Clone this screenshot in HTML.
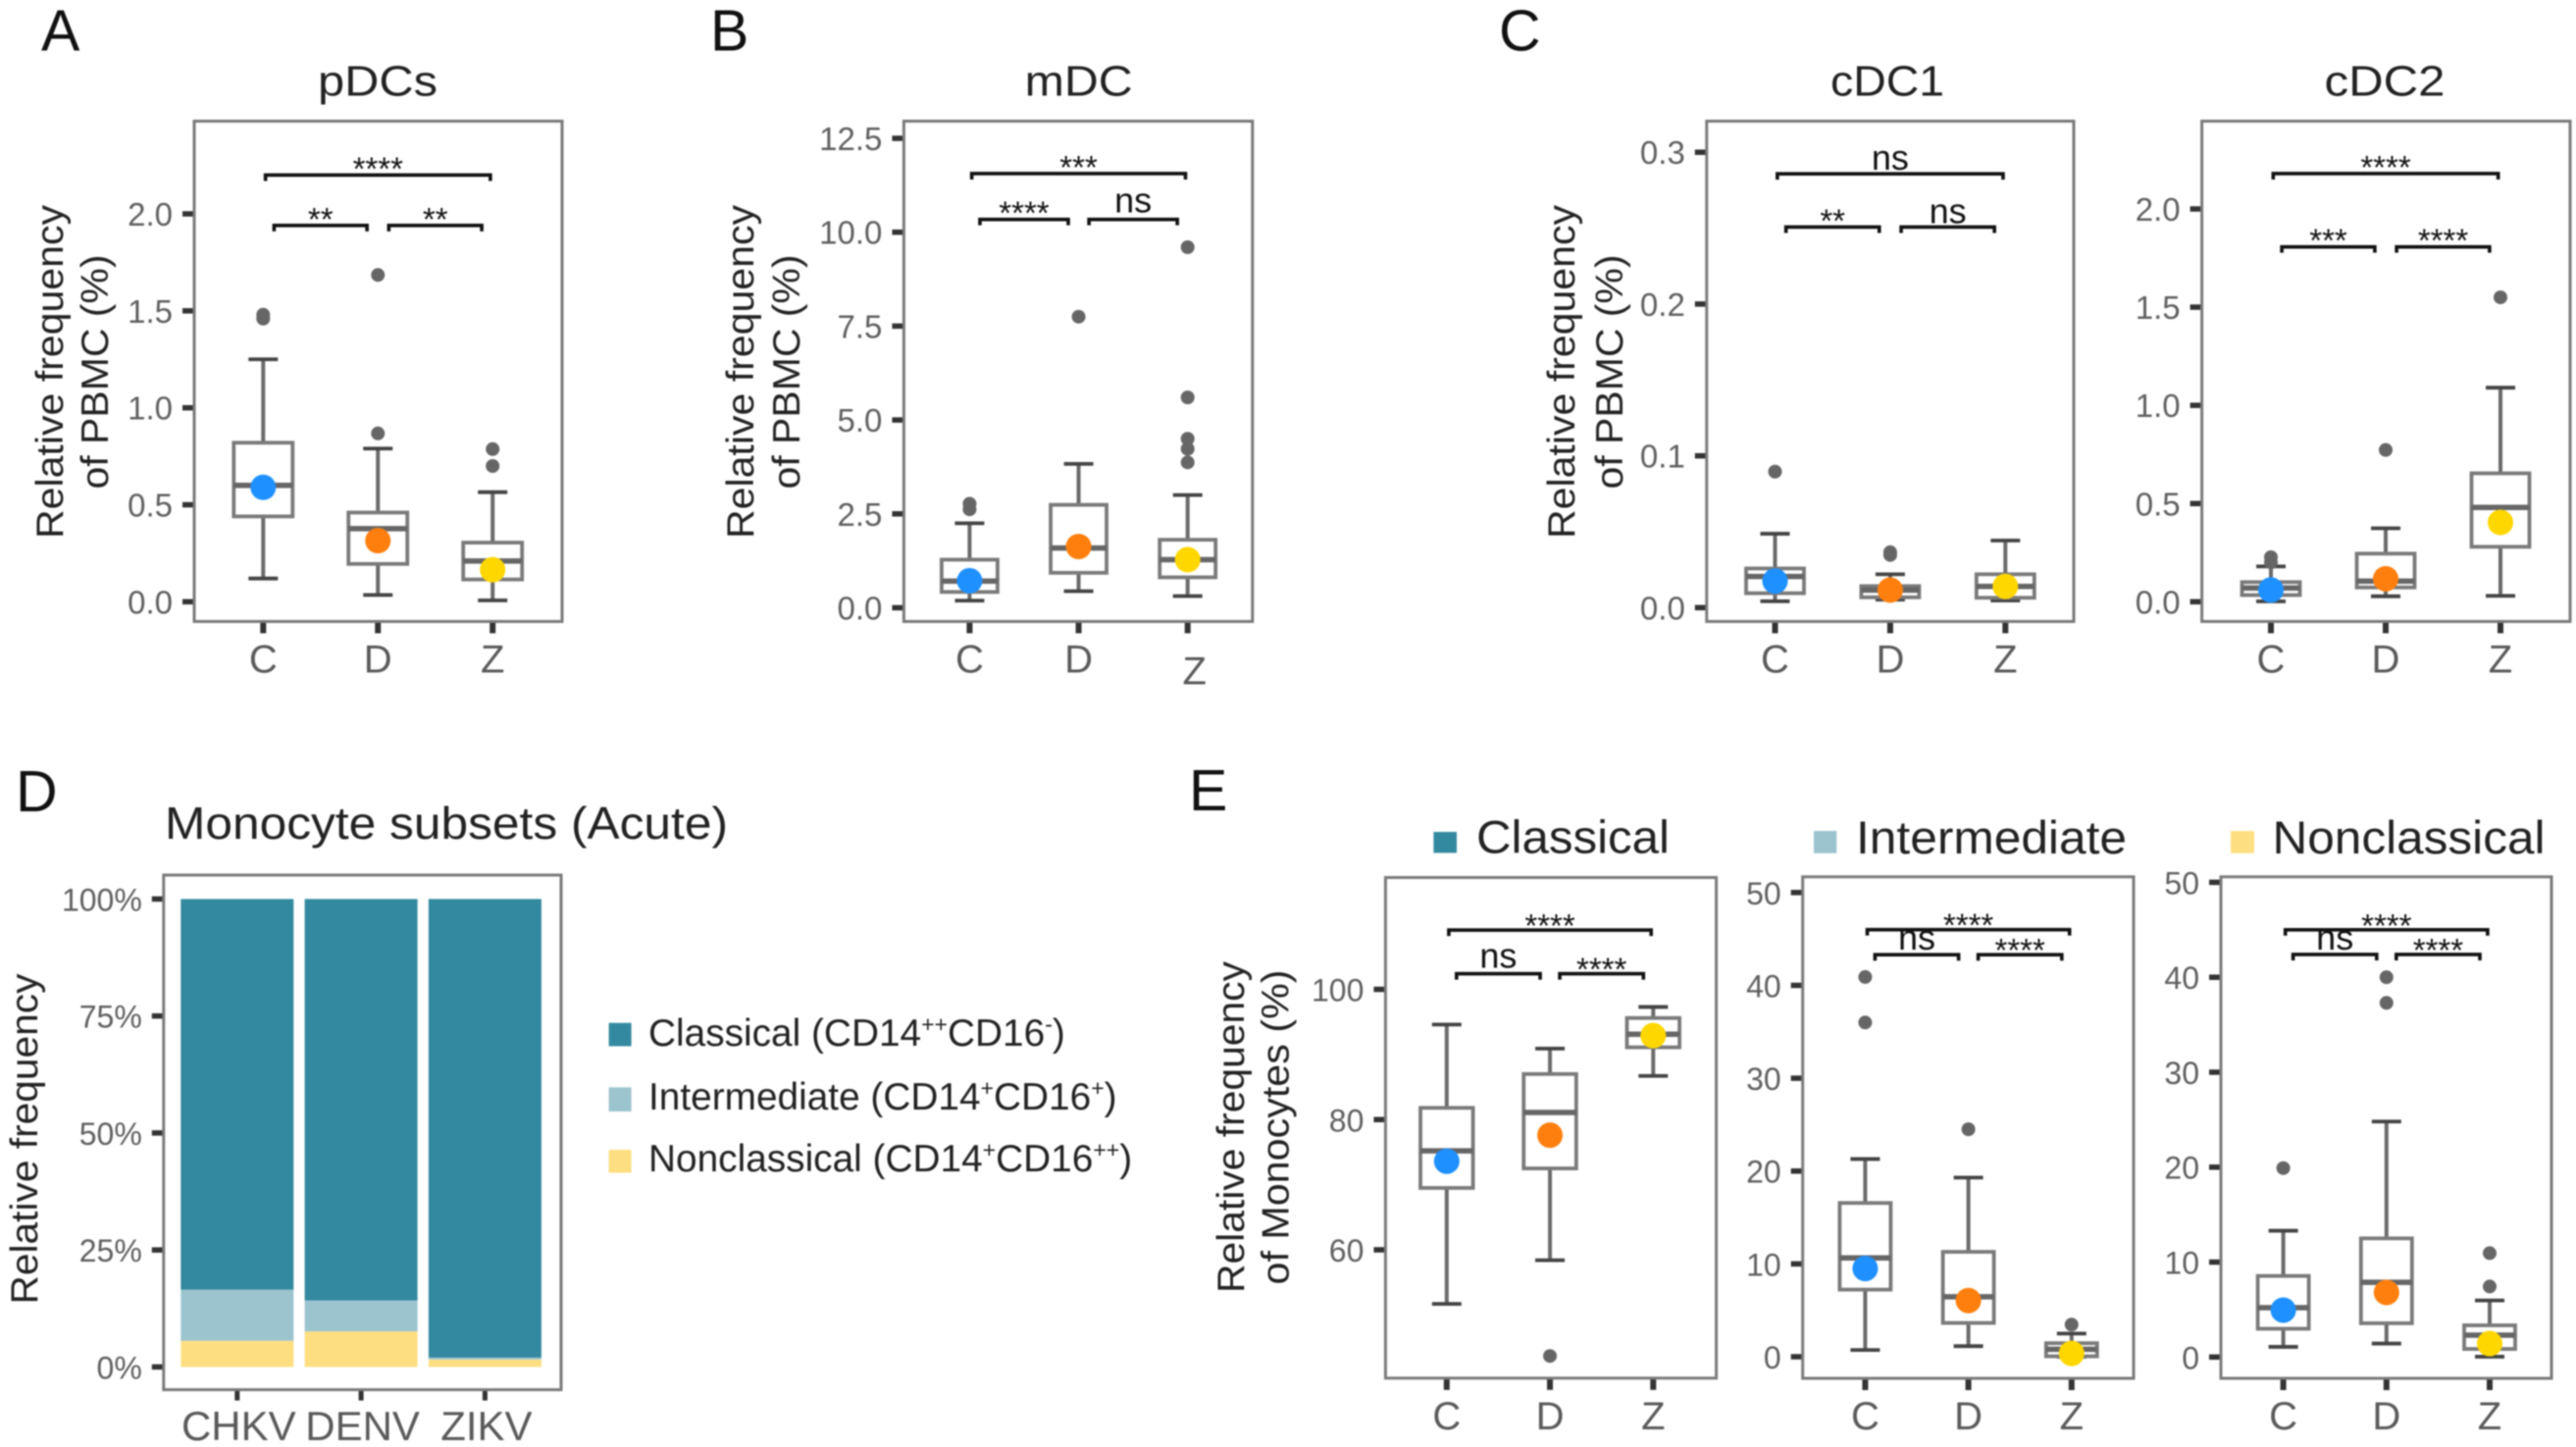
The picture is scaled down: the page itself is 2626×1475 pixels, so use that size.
<!DOCTYPE html>
<html lang="en">
<head>
<meta charset="utf-8">
<title>Dendritic cell and monocyte frequencies</title>
<style>
html,body{margin:0;padding:0;background:#fff;width:2626px;height:1475px;overflow:hidden}
svg{display:block;filter:blur(0.8px);font-family:"Liberation Sans",Arial,sans-serif}
.letter{font-size:59px;fill:#111}
.title{font-size:44px;fill:#222;text-anchor:middle}
.ytitle{font-size:39px;fill:#222;text-anchor:middle}
.legend{font-size:38.8px;fill:#222}
.sup{font-size:23px}
</style>
</head>
<body>
<svg id="figure" xmlns="http://www.w3.org/2000/svg" width="2626" height="1475" viewBox="0 0 2626 1475">
  <rect width="2626" height="1475" fill="#fff"/>

  <text class="letter" x="42" y="51.5">A</text>
  <text class="letter" x="724" y="51.5">B</text>
  <text class="letter" x="1528" y="51.5">C</text>
  <text class="letter" x="16" y="827">D</text>
  <text class="letter" x="1212" y="826">E</text>

  <text class="title" x="385" y="97.5" textLength="122" lengthAdjust="spacingAndGlyphs">pDCs</text>
  <text class="title" x="1099.6" y="97.5" textLength="110" lengthAdjust="spacingAndGlyphs">mDC</text>
  <text class="title" x="1924" y="97.5" textLength="116" lengthAdjust="spacingAndGlyphs">cDC1</text>
  <text class="title" x="2431" y="97.5" textLength="123" lengthAdjust="spacingAndGlyphs">cDC2</text>
  <text class="title" x="455" y="855" style="font-size:46px" textLength="574" lengthAdjust="spacingAndGlyphs">Monocyte subsets (Acute)</text>

  <g>
    <text class="ytitle" transform="translate(64,379) rotate(-90)" textLength="340" lengthAdjust="spacingAndGlyphs">Relative frequency</text>
    <text class="ytitle" transform="translate(110,379) rotate(-90)" textLength="239" lengthAdjust="spacingAndGlyphs">of PBMC (%)</text>
  </g>
  <g>
    <text class="ytitle" transform="translate(768,379) rotate(-90)" textLength="340" lengthAdjust="spacingAndGlyphs">Relative frequency</text>
    <text class="ytitle" transform="translate(815,379) rotate(-90)" textLength="239" lengthAdjust="spacingAndGlyphs">of PBMC (%)</text>
  </g>
  <g>
    <text class="ytitle" transform="translate(1605,379) rotate(-90)" textLength="340" lengthAdjust="spacingAndGlyphs">Relative frequency</text>
    <text class="ytitle" transform="translate(1654,379) rotate(-90)" textLength="239" lengthAdjust="spacingAndGlyphs">of PBMC (%)</text>
  </g>
  <text class="ytitle" transform="translate(38,1161) rotate(-90)" textLength="337" lengthAdjust="spacingAndGlyphs">Relative frequency</text>
  <g>
    <text class="ytitle" transform="translate(1268,1149) rotate(-90)" textLength="338" lengthAdjust="spacingAndGlyphs">Relative frequency</text>
    <text class="ytitle" transform="translate(1313.6,1149) rotate(-90)" textLength="321" lengthAdjust="spacingAndGlyphs">of Monocytes (%)</text>
  </g>

  <g>
    <g>
      <rect x="620.6" y="1042.7" width="23" height="23.7" fill="#33899f"/>
      <text class="legend" x="661" y="1066">Classical (CD14<tspan class="sup" dy="-14">++</tspan><tspan dy="14">CD16</tspan><tspan class="sup" dy="-14">-</tspan><tspan dy="14">)</tspan></text>
    </g>
    <g>
      <rect x="620.6" y="1108.4" width="23" height="24.6" fill="#9cc4cf"/>
      <text class="legend" x="661" y="1131">Intermediate (CD14<tspan class="sup" dy="-14">+</tspan><tspan dy="14">CD16</tspan><tspan class="sup" dy="-14">+</tspan><tspan dy="14">)</tspan></text>
    </g>
    <g>
      <rect x="620.6" y="1172" width="23" height="23.5" fill="#fddf82"/>
      <text class="legend" x="661" y="1194">Nonclassical (CD14<tspan class="sup" dy="-14">+</tspan><tspan dy="14">CD16</tspan><tspan class="sup" dy="-14">++</tspan><tspan dy="14">)</tspan></text>
    </g>
  </g>

  <g>
    <rect x="1461.4" y="848" width="23.6" height="21.4" fill="#33899f"/>
    <text class="title" x="1603.5" y="869.5" style="font-size:47px" textLength="197" lengthAdjust="spacingAndGlyphs">Classical</text>
  </g>
  <g>
    <rect x="1849" y="847" width="23.3" height="22.7" fill="#9cc4cf"/>
    <text class="title" x="2030" y="870" style="font-size:47px" textLength="276" lengthAdjust="spacingAndGlyphs">Intermediate</text>
  </g>
  <g>
    <rect x="2274" y="847" width="24" height="22.7" fill="#fddf82"/>
    <text class="title" x="2455.5" y="870" style="font-size:47px" textLength="278" lengthAdjust="spacingAndGlyphs">Nonclassical</text>
  </g>

  <g id="charts"></g>
</svg>

<script>
// Shared categories
const boxCategories = ['C', 'D', 'Z'];
const groupColors = ['#1e90ff', '#ff7f0e', '#ffd700'];

// Panel A: pDCs
const pdcTickLabels = ['0.0', '0.5', '1.0', '1.5', '2.0'];
const pdcWhiskerLow = [0.12, 0.035, 0.007];
const pdcQ1 = [0.44, 0.195, 0.115];
const pdcMedian = [0.60, 0.377, 0.21];
const pdcQ3 = [0.82, 0.46, 0.305];
const pdcWhiskerHigh = [1.25, 0.79, 0.565];
const pdcMean = [0.59, 0.315, 0.165];
const pdcOutliers = [[1.48, 1.46], [1.685, 0.868], [0.787, 0.70]];
const pdcBracketLabels = ['****', '**', '**'];
const pdcBracketValues = [2.2, 1.94, 1.94];

// Panel B: mDC
const mdcTickLabels = ['0.0', '2.5', '5.0', '7.5', '10.0', '12.5'];
const mdcWhiskerLow = [0.19, 0.44, 0.31];
const mdcQ1 = [0.42, 0.93, 0.81];
const mdcMedian = [0.71, 1.59, 1.28];
const mdcQ3 = [1.28, 2.74, 1.81];
const mdcWhiskerHigh = [2.25, 3.83, 3.0];
const mdcMean = [0.72, 1.63, 1.28];
const mdcOutliers = [[2.77, 2.62], [7.75], [9.6, 5.6, 4.5, 4.23, 3.87]];
const mdcBracketLabels = ['***', '****', 'ns'];
const mdcBracketValues = [11.56, 10.34, 10.34];

// Panel C: cDC1
const cdc1TickLabels = ['0.0', '0.1', '0.2', '0.3'];
const cdc1WhiskerLow = [0.0042, 0.0053, 0.0047];
const cdc1Q1 = [0.0095, 0.0068, 0.0065];
const cdc1Median = [0.0205, 0.0116, 0.014];
const cdc1Q3 = [0.0258, 0.0142, 0.022];
const cdc1WhiskerHigh = [0.0487, 0.022, 0.0442];
const cdc1Mean = [0.0175, 0.0116, 0.014];
const cdc1Outliers = [[0.0896], [0.0365, 0.0347], []];
const cdc1BracketLabels = ['ns', '**', 'ns'];
const cdc1BracketValues = [0.2858, 0.2507, 0.2507];

// Panel C: cDC2
const cdc2TickLabels = ['0.0', '0.5', '1.0', '1.5', '2.0'];
const cdc2WhiskerLow = [0.002, 0.028, 0.03];
const cdc2Q1 = [0.034, 0.073, 0.28];
const cdc2Median = [0.07, 0.105, 0.48];
const cdc2Q3 = [0.10, 0.245, 0.654];
const cdc2WhiskerHigh = [0.18, 0.374, 1.09];
const cdc2Mean = [0.06, 0.117, 0.404];
const cdc2Outliers = [[0.227, 0.20], [0.773], [1.55]];
const cdc2BracketLabels = ['****', '***', '****'];
const cdc2BracketValues = [2.18, 1.807, 1.807];

// Panel E: Classical
const classicalTickLabels = ['60', '80', '100'];
const classicalWhiskerLow = [51.7, 58.4, 86.7];
const classicalQ1 = [69.5, 72.5, 91.1];
const classicalMedian = [75.2, 81.1, 93.1];
const classicalQ3 = [81.8, 87, 95.6];
const classicalWhiskerHigh = [94.6, 90.9, 97.3];
const classicalMean = [73.6, 77.6, 92.9];
const classicalOutliers = [[], [43.7], []];
const classicalBracketLabels = ['****', 'ns', '****'];
const classicalBracketValues = [109.1, 102.4, 102.4];

// Panel E: Intermediate
const intermediateTickLabels = ['0', '10', '20', '30', '40', '50'];
const intermediateWhiskerLow = [0.73, 1.14, 0];
const intermediateQ1 = [7.23, 3.64, 0.05];
const intermediateMedian = [10.65, 6.46, 0.8];
const intermediateQ3 = [16.56, 11.3, 1.46];
const intermediateWhiskerHigh = [21.3, 19.3, 2.5];
const intermediateMean = [9.5, 6.05, 0.36];
const intermediateOutliers = [[40.9, 36], [24.5], [3.46]];
const intermediateBracketLabels = ['****', 'ns', '****'];
const intermediateBracketValues = [46, 43.3, 43.3];

// Panel E: Nonclassical
const nonclassicalTickLabels = ['0', '10', '20', '30', '40', '50'];
const nonclassicalWhiskerLow = [1.07, 1.42, 0.04];
const nonclassicalQ1 = [2.98, 3.56, 0.85];
const nonclassicalMedian = [5.2, 7.87, 2.3];
const nonclassicalQ3 = [8.54, 12.5, 3.34];
const nonclassicalWhiskerHigh = [13.3, 24.8, 5.96];
const nonclassicalMean = [4.94, 6.8, 1.42];
const nonclassicalOutliers = [[19.9], [40, 37.3], [10.94, 7.43]];
const nonclassicalBracketLabels = ['****', 'ns', '****'];
const nonclassicalBracketValues = [45, 42.4, 42.4];

// Panel D: stacked bars
const subsetCategories = ['CHKV', 'DENV', 'ZIKV'];
const subsetTickLabels = ['0%', '25%', '50%', '75%', '100%'];
const subsetNonclassical = [5.6, 7.6, 1.6];
const subsetIntermediate = [10.9, 6.6, 0.4];
const subsetClassical = [83.5, 85.8, 98];

// Layout of each boxplot panel
const boxPanels = [
  {id:'pdcs', frame:[198,123.5,573,633.5], xRange:[268.3,502.2], yDomain:[0,2], yRange:[613.4,218], boxWidth:60, nsGap:6, starDrop:5, fontSize:33,
   ticks:pdcTickLabels, lo:pdcWhiskerLow, q1:pdcQ1, med:pdcMedian, q3:pdcQ3, hi:pdcWhiskerHigh, mean:pdcMean, out:pdcOutliers, bl:pdcBracketLabels, bv:pdcBracketValues},
  {id:'mdc', frame:[921.4,123.5,1276.8,633.5], xRange:[988.4,1210.7], yDomain:[0,12.5], yRange:[619.5,141], boxWidth:57, nsGap:7, starDrop:5, fontSize:33, zShift:[7,12],
   ticks:mdcTickLabels, lo:mdcWhiskerLow, q1:mdcQ1, med:mdcMedian, q3:mdcQ3, hi:mdcWhiskerHigh, mean:mdcMean, out:mdcOutliers, bl:mdcBracketLabels, bv:mdcBracketValues},
  {id:'cdc1', frame:[1739.8,123.5,2114,633.5], xRange:[1809.5,2044.3], yDomain:[0,0.3], yRange:[619.4,155.2], boxWidth:59, nsGap:4, starDrop:5, fontSize:33,
   ticks:cdc1TickLabels, lo:cdc1WhiskerLow, q1:cdc1Q1, med:cdc1Median, q3:cdc1Q3, hi:cdc1WhiskerHigh, mean:cdc1Mean, out:cdc1Outliers, bl:cdc1BracketLabels, bv:cdc1BracketValues},
  {id:'cdc2', frame:[2244.6,123.5,2620,633.5], xRange:[2315,2549], yDomain:[0,2], yRange:[613.4,213], boxWidth:59, nsGap:4, starDrop:5, fontSize:33,
   ticks:cdc2TickLabels, lo:cdc2WhiskerLow, q1:cdc2Q1, med:cdc2Median, q3:cdc2Q3, hi:cdc2WhiskerHigh, mean:cdc2Mean, out:cdc2Outliers, bl:cdc2BracketLabels, bv:cdc2BracketValues},
  {id:'classical', frame:[1412.4,894.5,1749.6,1404.8], xRange:[1474.8,1685.3], yDomain:[60,100], yRange:[1274,1008.5], boxWidth:53.6, nsGap:6, starDrop:7, fontSize:32,
   ticks:classicalTickLabels, lo:classicalWhiskerLow, q1:classicalQ1, med:classicalMedian, q3:classicalQ3, hi:classicalWhiskerHigh, mean:classicalMean, out:classicalOutliers, bl:classicalBracketLabels, bv:classicalBracketValues},
  {id:'intermediate', frame:[1837.7,893.8,2175,1405], xRange:[1901.4,2111.8], yDomain:[0,50], yRange:[1383,909.8], boxWidth:52, nsGap:5, starDrop:7, fontSize:32,
   ticks:intermediateTickLabels, lo:intermediateWhiskerLow, q1:intermediateQ1, med:intermediateMedian, q3:intermediateQ3, hi:intermediateWhiskerHigh, mean:intermediateMean, out:intermediateOutliers, bl:intermediateBracketLabels, bv:intermediateBracketValues},
  {id:'nonclassical', frame:[2264,893.8,2601,1405], xRange:[2327.6,2538], yDomain:[0,50], yRange:[1383.3,899.4], boxWidth:52, nsGap:5, starDrop:7, fontSize:32,
   ticks:nonclassicalTickLabels, lo:nonclassicalWhiskerLow, q1:nonclassicalQ1, med:nonclassicalMedian, q3:nonclassicalQ3, hi:nonclassicalWhiskerHigh, mean:nonclassicalMean, out:nonclassicalOutliers, bl:nonclassicalBracketLabels, bv:nonclassicalBracketValues}
];
// Comparison brackets run between category indices
const bracketSpans = [[0.02, 1.98], [0.095, 0.905], [1.095, 1.905]];

const NS = 'http://www.w3.org/2000/svg';
const root = document.getElementById('charts');

function make(tag, attrs, parent, name, text) {
  const el = document.createElementNS(NS, tag);
  for (const k in attrs) el.setAttribute(k, attrs[k]);
  
  
  if (text !== undefined) el.textContent = text;
  parent.appendChild(el);
  return el;
}
function linear(domain, range) {
  const k = (range[1] - range[0]) / (domain[1] - domain[0]);
  return v => range[0] + (v - domain[0]) * k;
}
function line(parent, name, x1, y1, x2, y2, stroke, width) {
  return make('line', {x1, y1, x2, y2, stroke, 'stroke-width': width}, parent, name);
}
function frameRect(parent, name, f) {
  return make('rect', {x:f[0], y:f[1], width:f[2]-f[0], height:f[3]-f[1], fill:'none', stroke:'#7a7a7a', 'stroke-width':3}, parent, name);
}
function yAxis(parent, id, f, labels, y, fontSize) {
  labels.forEach(label => {
    const py = y(parseFloat(label));
    line(parent, id + '-y-tick-' + label, f[0] - 12, py, f[0], py, '#333', 5.5);
    make('text', {x:f[0] - 22, y:py + 12, 'text-anchor':'end', 'font-size':fontSize, fill:'#5f5f5f'}, parent, id + '-y-tick-label-' + label, label);
  });
}

boxPanels.forEach(p => {
  const g = make('g', {}, root, 'panel-' + p.id);
  const x = linear([0, 2], p.xRange);
  const y = linear(p.yDomain, p.yRange);
  const f = p.frame;

  yAxis(g, p.id, f, p.ticks, y, p.fontSize);
  boxCategories.forEach((cat, i) => {
    line(g, p.id + '-x-tick-' + cat, x(i), f[3], x(i), f[3] + 12, '#333', 6);
    const shift = (cat === 'Z' && p.zShift) ? p.zShift : [0, 0];
    make('text', {x:x(i) + shift[0], y:f[3] + 52 + shift[1], 'text-anchor':'middle', 'font-size':40, fill:'#5a5a5a'}, g, p.id + '-x-label-' + cat, cat);

    const w = p.boxWidth / 2;
    line(g, p.id + '-whisker-' + cat, x(i), y(p.lo[i]), x(i), y(p.hi[i]), '#6a6a6a', 4);
    line(g, p.id + '-cap-low-' + cat, x(i) - 15, y(p.lo[i]), x(i) + 15, y(p.lo[i]), '#444', 3.8);
    line(g, p.id + '-cap-high-' + cat, x(i) - 15, y(p.hi[i]), x(i) + 15, y(p.hi[i]), '#444', 3.8);
    make('rect', {x:x(i) - w, y:y(p.q3[i]), width:p.boxWidth, height:y(p.q1[i]) - y(p.q3[i]), fill:'#fff', stroke:'#7a7a7a', 'stroke-width':3.8}, g, p.id + '-box-' + cat);
    line(g, p.id + '-median-' + cat, x(i) - w, y(p.med[i]), x(i) + w, y(p.med[i]), '#666', 5.5);
    p.out[i].forEach((v, j) => {
      make('circle', {cx:x(i), cy:y(v), r:7, fill:'#666'}, g, p.id + '-outlier-' + cat + '-' + j);
    });
    make('circle', {cx:x(i), cy:y(p.mean[i]), r:13, fill:groupColors[i]}, g, p.id + '-mean-' + cat);
  });

  bracketSpans.forEach((span, b) => {
    const x1 = x(span[0]);
    const x2 = x(span[1]);
    const by = y(p.bv[b]);
    const label = p.bl[b];
    make('path', {d:'M' + x1 + ' ' + (by + 6) + 'V' + by + 'H' + x2 + 'V' + (by + 6), fill:'none', stroke:'#111', 'stroke-width':3.6}, g, p.id + '-bracket-' + b);
    const isNs = label === 'ns';
    make('text', {x:(x1 + x2) / 2, y:isNs ? by - p.nsGap : by + p.starDrop, 'text-anchor':'middle', 'font-size':isNs ? 36 : 33, fill:'#111'}, g, p.id + '-bracket-label-' + b, label);
  });

  frameRect(g, p.id + '-frame', f);
});

// Panel D
(function () {
  const g = make('g', {}, root, 'panel-monocyte-subsets');
  const f = [166.8, 892, 572, 1416.6];
  const x = linear([0, 2], [241.8, 494.4]);
  const y = linear([0, 100], [1393.4, 916.4]);
  const barWidth = 115;
  yAxis(g, 'subsets', f, subsetTickLabels, y, 32);
  subsetCategories.forEach((cat, i) => {
    const parts = [
      ['nonclassical', subsetNonclassical[i], '#fddf82'],
      ['intermediate', subsetIntermediate[i], '#9cc4cf'],
      ['classical', subsetClassical[i], '#33899f']
    ];
    let base = 0;
    parts.forEach(part => {
      const top = base + part[1];
      make('rect', {x:x(i) - barWidth / 2, y:y(top), width:barWidth, height:y(base) - y(top), fill:part[2]}, g, 'bar-' + cat + '-' + part[0]);
      base = top;
    });
    line(g, 'subsets-x-tick-' + cat, x(i), f[3], x(i), f[3] + 11, '#333', 5);
    make('text', {x:x(i) + 1.5, y:1468, 'text-anchor':'middle', 'font-size':42, fill:'#5a5a5a'}, g, 'subsets-x-label-' + cat, cat);
  });
  frameRect(g, 'subsets-frame', f);
})();
</script>
</body>
</html>
